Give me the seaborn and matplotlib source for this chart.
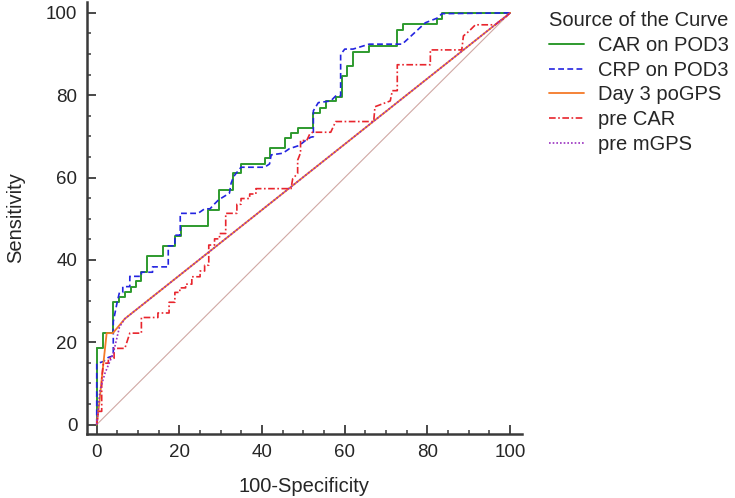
import matplotlib
matplotlib.use("Agg")
import matplotlib.pyplot as plt
from matplotlib.ticker import MultipleLocator
import seaborn as sns
import pandas as pd

# ROC curves (100-specificity vs sensitivity, in %)
car_pod3_fpr = [0, 1.4, 4, 5.5, 6.8, 8.2, 9.5, 10.8, 12.2, 16, 18.9, 20.4, 27, 29.5, 33, 35,
                40.6, 42, 45.6, 47, 48.6, 52.4, 53.9, 55.4, 57.8, 59.3, 60.6, 62, 65.9, 72.7,
                74, 82.2, 83.5, 100]
car_pod3_tpr = [18.5, 22.2, 29.7, 30.9, 32.1, 33.5, 34.8, 37.1, 41, 43.4, 45.8, 48.3, 52, 57,
                61, 63.3, 64.7, 67.2, 69.5, 70.9, 72.1, 75.7, 77, 78.5, 79.5, 84.6, 87, 90.6,
                92, 95.8, 97.3, 98.5, 100, 100]

crp_pod3_fpr = [0, 0, 1.6, 2.8, 4, 4, 5, 5.5, 6.3, 6.3, 8, 8, 10.8, 10.8, 13.5, 13.5, 17.3, 17.3,
                18.9, 18.9, 20.2, 20.2, 24.5, 26.1, 27.4, 28.5, 29.5, 32.1, 32.5, 33.1, 33.7,
                34.9, 40.6, 41.8, 42.2, 45, 46.6, 49, 50.5, 51.8, 52.4, 52.4, 53.6, 56.6, 57.8,
                59, 59, 60, 62, 65.9, 73.9, 79.5, 82.3, 83.5, 100]
crp_pod3_tpr = [0, 14.8, 15.3, 16.3, 16.7, 25, 30, 32.1, 32.1, 33.5, 33.5, 36, 36, 37, 37, 38.3,
                38.3, 43.4, 43.4, 46, 46, 51.3, 51.3, 52.4, 52.4, 53.6, 54.6, 56.2, 58.6, 60.2,
                61, 62.5, 62.5, 63.3, 65.5, 65.9, 67, 67.8, 69, 69.8, 69.9, 76.2, 78.2, 78.6,
                79.8, 79.8, 89.9, 91.2, 91.2, 92.4, 92.4, 97.6, 98.7, 99.8, 100]

day3_pogps_fpr = [0, 0.6, 1.3, 2.4, 3.9, 6.8, 100]
day3_pogps_tpr = [0, 5, 12, 22.2, 22.2, 25.7, 100]

pre_car_fpr = [0, 0.4, 1.2, 1.2, 1.6, 2.8, 2.8, 4.2, 4.2, 6.8, 8, 10.8, 10.8, 14.8, 14.8, 17.5,
               17.5, 18.9, 18.9, 20.1, 20.1, 21.5, 21.5, 23, 23, 25, 25, 26.1, 26.1, 27.1,
               27.1, 28.5, 28.5, 29.7, 29.7, 31.2, 31.2, 33.9, 33.9, 34.9, 34.9, 37, 37, 38.5,
               38.5, 47, 47.4, 48.6, 48.6, 49.3, 49.3, 50.8, 51.5, 52.2, 56.6, 57.8, 67, 67.3,
               71, 71.5, 72.7, 72.7, 80.7, 80.7, 88.3, 88.7, 90, 91.6, 96.4, 97.5, 98.5, 100]
pre_car_tpr = [0, 3.2, 3.2, 11, 14.9, 14.9, 16.1, 16.1, 18.5, 18.5, 22.2, 22.2, 26, 26, 27.1,
               27.1, 29.7, 29.7, 32.1, 32.1, 33.2, 33.2, 34.1, 34.1, 35.9, 35.9, 37.3, 37.3,
               38.7, 38.7, 43.6, 43.6, 45.1, 45.1, 46.4, 46.4, 51.3, 51.3, 53.5, 53.5, 54.9,
               54.9, 56, 56, 57.3, 57.3, 59.7, 61, 64.2, 66, 69, 69, 70.5, 71, 71, 73.6, 73.6,
               77.2, 78.6, 81.1, 81.1, 87.4, 87.4, 91, 91, 94.4, 95.5, 97.1, 97.1, 98, 98.6, 100]

pre_mgps_fpr = [0, 0.8, 2, 4, 5.5, 6.8, 100]
pre_mgps_tpr = [0, 8.4, 12.5, 17.3, 23.7, 25.7, 100]

ref_line = [0, 100]

sns.set_style("ticks")
plt.rcParams["font.family"] = ["Liberation Sans", "DejaVu Sans"]

fig = plt.figure(figsize=(7.35, 4.98), dpi=100)
ax = fig.add_axes([0.1184, 0.1285, 0.5914, 0.868])

sns.lineplot(x=ref_line, y=ref_line, ax=ax, color="#d0a8a4", lw=0.8, sort=False,
             estimator=None)

car_df = pd.DataFrame({"fpr": car_pod3_fpr, "tpr": car_pod3_tpr})
ax.plot(car_df["fpr"], car_df["tpr"], drawstyle="steps-post", color="#2e9a2e", lw=1.4,
        label="CAR on POD3")
# connect the origin to the first step
ax.plot([0, 0], [0, car_pod3_tpr[0]], color="#2e9a2e", lw=1.4)

sns.lineplot(x=crp_pod3_fpr, y=crp_pod3_tpr, ax=ax, sort=False, estimator=None,
             color="#2424e0", lw=1.2, linestyle=(0, (3.5, 2)), label="CRP on POD3")
sns.lineplot(x=day3_pogps_fpr, y=day3_pogps_tpr, ax=ax, sort=False, estimator=None,
             color="#f47a28", lw=1.3, label="Day 3 poGPS")
sns.lineplot(x=pre_car_fpr, y=pre_car_tpr, ax=ax, sort=False, estimator=None,
             color="#e8252d", lw=1.2, linestyle=(0, (4, 1.5, 1, 1.5)), label="pre CAR")
sns.lineplot(x=pre_mgps_fpr, y=pre_mgps_tpr, ax=ax, sort=False, estimator=None,
             color="#9a30c0", lw=1.2, linestyle=(0, (1, 1.2)), label="pre mGPS")

ax.set_xlim(-2.35, 102.8)
ax.set_ylim(-2.3, 102.7)
ax.xaxis.set_major_locator(MultipleLocator(20))
ax.xaxis.set_minor_locator(MultipleLocator(5))
ax.yaxis.set_major_locator(MultipleLocator(20))
ax.yaxis.set_minor_locator(MultipleLocator(5))
ax.tick_params(which="major", direction="in", length=6.5, width=1.3, color="#3a3a3a",
               labelsize=13.5, pad=7)
ax.tick_params(which="minor", direction="in", length=3.2, width=1.1, color="#3a3a3a")
for side in ["top", "right"]:
    ax.spines[side].set_visible(False)
for side in ["left", "bottom"]:
    ax.spines[side].set_linewidth(1.8)
    ax.spines[side].set_color("#3a3a3a")

ax.set_xlabel("100-Specificity", fontsize=14.5, labelpad=12)
ax.set_ylabel("Sensitivity", fontsize=14.5, labelpad=15)

ax.get_legend().remove()
handles, labels = ax.get_legend_handles_labels()
fig.legend(handles, labels, title="Source of the Curve", loc="upper left",
           bbox_to_anchor=(0.7469, 0.978), frameon=False, fontsize=14.5, title_fontsize=14.5,
           alignment="left", borderpad=0, borderaxespad=0, handlelength=1.74,
           handletextpad=0.7, labelspacing=0.29)

fig.savefig("out.png", dpi=100)
